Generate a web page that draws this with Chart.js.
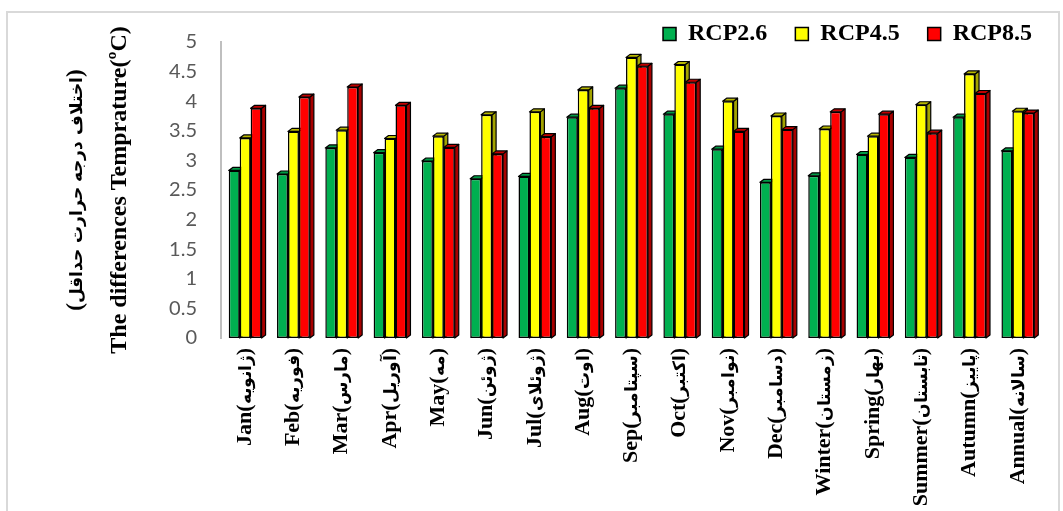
<!DOCTYPE html>
<html>
<head>
<meta charset="utf-8">
<script src="https://cdn.jsdelivr.net/npm/chart.js@4/dist/chart.umd.min.js"></script>
<style>
  /* smaller Persian glyphs next to the Times-like latin text */
  @font-face {
    font-family: 'PersianSmall';
    src: local('DejaVu Sans Bold'), local('DejaVuSans-Bold');
    font-weight: bold;
    unicode-range: U+0600-06FF, U+0750-077F, U+FB50-FDFF, U+FE70-FEFF, U+200C-200F;
    size-adjust: 76%;
  }
  body { margin: 0; background: #fff; }
  .wrap { position: relative; width: 1063px; height: 511px; overflow: hidden; }
  .frame { position: absolute; left: 6px; top: 11px; width: 1050px; height: 520px; border: 2px solid #d9d9d9; }
  canvas { position: absolute; left: 0; top: 0; }
</style>
</head>
<body>
<div class="wrap">
  <div class="frame"></div>
  <canvas id="chart" width="1063" height="511"></canvas>
</div>
<script>
// categories (month / season + Persian name)
const categories = [
    'Jan(ژانویه)', 'Feb(فوریه)', 'Mar(مارس)', 'Apr(آوریل)', 'May(مه)', 'Jun(ژوئن)',
    'Jul(ژوئلای)', 'Aug(اوت)', 'Sep(سپتامبر)', 'Oct(اکتبر)', 'Nov(نوامبر)', 'Dec(دسامبر)',
    'Winter(زمستان)', 'Spring(بهار)', 'Summer(تابستان)', 'Autumn(پاییز)', 'Annual(سالانه)'
];

// series values
const rcp26 = [2.83, 2.77, 3.21, 3.13, 2.99, 2.69, 2.73, 3.73, 4.22, 3.78, 3.19, 2.63, 2.74, 3.10, 3.05, 3.73, 3.16];
const rcp45 = [3.38, 3.49, 3.51, 3.37, 3.41, 3.77, 3.82, 4.19, 4.74, 4.62, 4.00, 3.75, 3.53, 3.41, 3.94, 4.46, 3.83];
const rcp85 = [3.88, 4.07, 4.24, 3.93, 3.22, 3.11, 3.40, 3.88, 4.59, 4.32, 3.49, 3.52, 3.82, 3.78, 3.46, 4.13, 3.80];

const seriesNames = ['RCP2.6', 'RCP4.5', 'RCP8.5'];
const seriesColors = ['#00b050', '#ffff00', '#ff0000'];
const sideColors = ['#007a37', '#a3a300', '#a80000'];
const topColors = ['#009a45', '#b8b800', '#c00000'];

const yTitleEn = 'The differences Temprature(ºC)';
const yTitleFa = '(اختلاف درجه حرارت حداقل)';

const serif = "'Liberation Serif', PersianSmall, 'DejaVu Sans'";

// draws the top and right faces of every bar to get the 3D look
const bar3d = {
    id: 'bar3d',
    beforeDatasetsDraw(chart) {
        const ctx = chart.ctx;
        const dx = 4, dy = -3;
        ctx.save();
        ctx.lineWidth = 1.2;
        ctx.strokeStyle = '#000';
        ctx.lineJoin = 'round';
        chart.data.datasets.forEach((ds, i) => {
            chart.getDatasetMeta(i).data.forEach(bar => {
                const p = bar.getProps(['x', 'y', 'base', 'width'], true);
                const l = p.x - p.width / 2, r = p.x + p.width / 2;
                // side face
                ctx.beginPath();
                ctx.moveTo(r, p.y);
                ctx.lineTo(r + dx, p.y + dy);
                ctx.lineTo(r + dx, p.base + dy);
                ctx.lineTo(r, p.base);
                ctx.closePath();
                ctx.fillStyle = sideColors[i];
                ctx.fill();
                ctx.stroke();
                // top face
                ctx.beginPath();
                ctx.moveTo(l, p.y);
                ctx.lineTo(l + dx, p.y + dy);
                ctx.lineTo(r + dx, p.y + dy);
                ctx.lineTo(r, p.y);
                ctx.closePath();
                ctx.fillStyle = topColors[i];
                ctx.fill();
                ctx.stroke();
            });
        });
        ctx.restore();
    }
};

function drawChart() {
    const ctx = document.getElementById('chart').getContext('2d');
    new Chart(ctx, {
        type: 'bar',
        data: {
            labels: categories,
            datasets: [rcp26, rcp45, rcp85].map((vals, i) => ({
                label: seriesNames[i],
                data: vals,
                yAxisID: 'y',
                backgroundColor: seriesColors[i],
                borderColor: '#000',
                borderWidth: 1.5,
                borderSkipped: false,
                categoryPercentage: 0.68,
                barPercentage: 1
            }))
        },
        options: {
            responsive: false,
            animation: false,
            layout: { padding: { top: 12, right: 21, bottom: 0, left: 0 } },
            plugins: {
                tooltip: { enabled: false },
                legend: {
                    position: 'top',
                    align: 'end',
                    maxHeight: 30,
                    labels: {
                        color: '#000',
                        font: { family: serif, size: 24, weight: 'bold' },
                        boxWidth: 13,
                        boxHeight: 13,
                        padding: 10,
                        generateLabels(chart) {
                            const items = Chart.defaults.plugins.legend.labels.generateLabels(chart);
                            items.forEach((it, i) => {
                                if (i < items.length - 1) it.text = it.text + '   ';
                            });
                            return items;
                        }
                    }
                }
            },
            scales: {
                x: {
                    grid: { display: false, drawTicks: false },
                    border: { display: false },
                    ticks: {
                        autoSkip: false,
                        maxRotation: 90,
                        minRotation: 90,
                        padding: 10,
                        color: '#000',
                        font: { family: serif, size: 22, weight: 'bold' }
                    },
                    afterFit(scale) { scale.height = 173; }
                },
                y: {
                    min: 0,
                    max: 5,
                    grid: { display: false, drawTicks: false },
                    border: { display: true, color: '#bfbfbf', width: 2 },
                    ticks: {
                        stepSize: 0.5,
                        padding: 24,
                        color: '#595959',
                        font: { family: 'Lato', size: 20 },
                        callback: v => String(v)
                    },
                    title: {
                        display: true,
                        text: yTitleEn,
                        color: '#000',
                        font: { family: serif, size: 24, weight: 'bold', lineHeight: 1.2 },
                        padding: { top: 7, bottom: 0 }
                    },
                    afterFit(scale) { scale.width = 123; }
                },
                // second left axis only carries the Persian title line
                yFa: {
                    type: 'linear',
                    position: 'left',
                    weight: 1,
                    grid: { display: false, drawTicks: false },
                    border: { display: false },
                    ticks: { display: false },
                    title: {
                        display: true,
                        text: yTitleFa,
                        color: '#000',
                        font: { family: "PersianSmall, 'Liberation Serif', 'DejaVu Sans'", size: 23, weight: 'bold', lineHeight: 1.2 },
                        padding: { top: 62, bottom: 0 }
                    },
                    afterFit(scale) { scale.width = 98; }
                }
            }
        },
        plugins: [bar3d]
    });
}

document.fonts.load("bold 24px PersianSmall", 'ابپ')
    .catch(() => null)
    .then(() => drawChart());
</script>
</body>
</html>
